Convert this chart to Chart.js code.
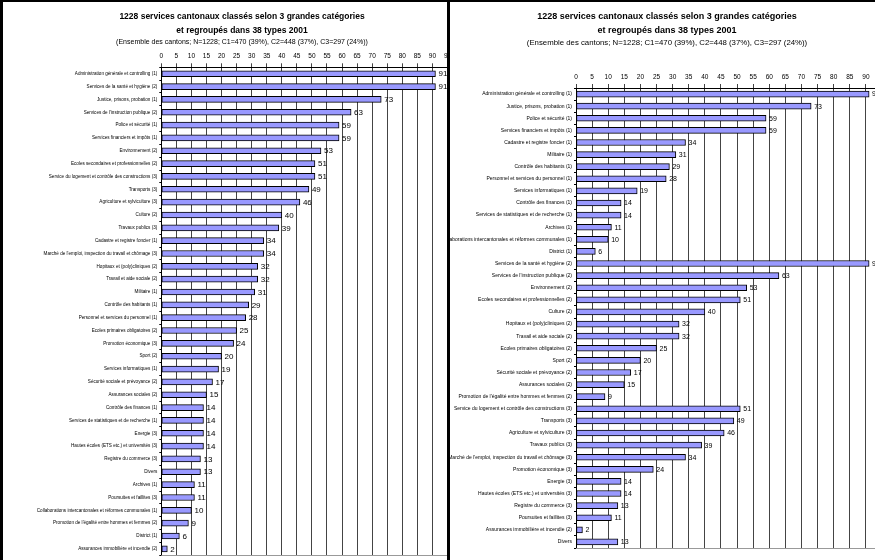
<!DOCTYPE html>
<html>
<head>
<meta charset="utf-8">
<script src="https://cdn.jsdelivr.net/npm/chart.js@4.4.1/dist/chart.umd.min.js"></script>
<style>
html, body { margin: 0; padding: 0; background: #fff; }
body { width: 875px; height: 560px; position: relative; overflow: hidden; }
#leftBox { position: absolute; left: 0; top: 0; width: 447px; height: 560px; overflow: hidden; border-top: 2px solid #000; box-sizing: border-box; }
#leftBox canvas { position: absolute; left: 0; top: -2px; }
#leftEdge { position: absolute; left: 0; top: 0; width: 3px; height: 560px; background: #000; }
#rightBox { position: absolute; left: 447px; top: 0; width: 428px; height: 560px; overflow: hidden; background: #fff; border-left: 3px solid #000; border-top: 2px solid #000; }
#rightBox canvas { position: absolute; left: 0; top: -2px; }
</style>
</head>
<body>
<div id="leftBox"><canvas id="leftChart" width="490" height="560"></canvas></div>
<div id="leftEdge"></div>
<div id="rightBox"><canvas id="rightChart" width="440" height="560"></canvas></div>
<script>
const titleLines = ['1228 services cantonaux classés selon 3 grandes catégories', 'et regroupés dans 38 types 2001'];
const subtitle = '(Ensemble des cantons; N=1228; C1=470 (39%), C2=448 (37%), C3=297 (24%))';

const leftLabels = [
  'Administration générale et controlling (1)', 'Services de la santé et hygiène (2)', 'Justice, prisons, probation (1)',
  "Services de l'instruction publique (2)", 'Police et sécurité (1)', 'Services financiers et impôts (1)',
  'Environnement (2)', 'Ecoles secondaires et professionnelles (2)', 'Service du logement et contrôle des constructions (3)',
  'Transports (3)', 'Agriculture et sylviculture (3)', 'Culture (2)', 'Travaux publics (3)',
  'Cadastre et registre foncier (1)', "Marché de l'emploi, inspection du travail et chômage (3)",
  'Hopitaux et (poly)cliniques (2)', 'Travail et aide sociale (2)', 'Militaire (1)', 'Contrôle des habitants (1)',
  'Personnel et services du personnel (1)', 'Ecoles primaires obligatoires (2)', 'Promotion économique (3)',
  'Sport (2)', 'Services informatiques (1)', 'Sécurité sociale et prévoyance (2)', 'Assurances sociales (2)',
  'Contrôle des finances (1)', 'Services de statistiques et de recherche (1)', 'Energie (3)',
  'Hautes écoles (ETS etc.) et universités (3)', 'Registre du commerce (3)', 'Divers', 'Archives (1)',
  'Poursuites et faillites (3)', 'Collaborations intercantonales et réformes communales (1)',
  "Promotion de l'égalité entre hommes et femmes (2)", 'District (1)', 'Assurances immobilière et incendie (2)'
];
const leftValues = [91, 91, 73, 63, 59, 59, 53, 51, 51, 49, 46, 40, 39, 34, 34, 32, 32, 31, 29, 28, 25, 24, 20, 19, 17, 15, 14, 14, 14, 14, 13, 13, 11, 11, 10, 9, 6, 2];

const rightLabels = [
  'Administration générale et controlling (1)', 'Justice, prisons, probation (1)', 'Police et sécurité (1)',
  'Services financiers et impôts (1)', 'Cadastre et registre foncier (1)', 'Militaire (1)', 'Contrôle des habitants (1)',
  'Personnel et services du personnel (1)', 'Services informatiques (1)', 'Contrôle des finances (1)',
  'Services de statistiques et de recherche (1)', 'Archives (1)', 'Collaborations intercantonales et réformes communales (1)',
  'District (1)', 'Services de la santé et hygiène (2)', "Services de l'instruction publique (2)", 'Environnement (2)',
  'Ecoles secondaires et professionnelles (2)', 'Culture (2)', 'Hopitaux et (poly)cliniques (2)', 'Travail et aide sociale (2)',
  'Ecoles primaires obligatoires (2)', 'Sport (2)', 'Sécurité sociale et prévoyance (2)', 'Assurances sociales (2)',
  "Promotion de l'égalité entre hommes et femmes (2)", 'Service du logement et contrôle des constructions (3)',
  'Transports (3)', 'Agriculture et sylviculture (3)', 'Travaux publics (3)',
  "Marché de l'emploi, inspection du travail et chômage (3)", 'Promotion économique (3)', 'Energie (3)',
  'Hautes écoles (ETS etc.) et universités (3)', 'Registre du commerce (3)', 'Poursuites et faillites (3)',
  'Assurances immobilière et incendie (2)', 'Divers'
];
const rightValues = [91, 73, 59, 59, 34, 31, 29, 28, 19, 14, 14, 11, 10, 6, 91, 63, 53, 51, 40, 32, 32, 25, 20, 17, 15, 9, 51, 49, 46, 39, 34, 24, 14, 14, 13, 11, 2, 13];

const xMax = 95;
const xStep = 5;
const FONT = '"Liberation Sans", Arial, sans-serif';

// titles, value labels and the grey bottom edge of the plot
const panelDeco = {
  id: 'panelDeco',
  afterDraw(chart, args, o) {
    const ctx = chart.ctx;
    const area = chart.chartArea;
    ctx.save();
    ctx.fillStyle = '#000';
    ctx.textAlign = 'center';
    ctx.textBaseline = 'middle';
    ctx.font = 'bold ' + o.titleSize + 'px ' + FONT;
    ctx.fillText(titleLines[0], o.cx, 17);
    ctx.fillText(titleLines[1], o.cx, 30.5);
    ctx.font = o.subSize + 'px ' + FONT;
    ctx.fillText(subtitle, o.cx, 42.5);

    ctx.font = o.valSize + 'px ' + FONT;
    ctx.textAlign = 'left';
    const vals = chart.data.datasets[0].data;
    chart.getDatasetMeta(0).data.forEach((bar, i) => {
      ctx.fillText(String(vals[i]), bar.x + 3, bar.y + 0.5);
    });

    ctx.strokeStyle = '#999';
    ctx.lineWidth = 1;
    ctx.beginPath();
    ctx.moveTo(area.left, Math.round(area.bottom) + 0.5);
    ctx.lineTo(area.right, Math.round(area.bottom) + 0.5);
    ctx.stroke();
    ctx.restore();
  }
};

function makePanel(id, labels, values, o) {
  return new Chart(document.getElementById(id), {
    type: 'bar',
    data: {
      labels: labels,
      datasets: [{
        data: values,
        backgroundColor: '#9999ff',
        borderColor: '#000',
        borderWidth: 1,
        borderSkipped: false,
        barThickness: 6
      }]
    },
    options: {
      indexAxis: 'y',
      responsive: false,
      animation: false,
      devicePixelRatio: 1,
      layout: { padding: { top: o.top, bottom: o.bottom, left: 0, right: o.right } },
      plugins: {
        legend: { display: false },
        tooltip: { enabled: false },
        panelDeco: o
      },
      scales: {
        x: {
          position: 'top',
          min: 0,
          max: xMax,
          ticks: { stepSize: xStep, color: '#000', font: { family: FONT, size: o.tickSize }, padding: 3, maxRotation: 0 },
          grid: { color: '#444', tickLength: 4, lineWidth: 1 },
          border: { color: '#000', width: 1 },
          afterFit: s => { s.height = 20; }
        },
        y: {
          ticks: { color: '#000', font: { family: FONT, size: o.labelSize }, padding: 2, autoSkip: false },
          grid: { drawOnChartArea: false, offset: true, tickLength: 2, color: '#000' },
          border: { color: '#000', width: 1 },
          afterFit: s => { s.width = o.yWidth; }
        }
      }
    },
    plugins: [panelDeco]
  });
}

makePanel('leftChart', leftLabels, leftValues, {
  cx: 242, titleSize: 8.5, subSize: 7, valSize: 8, tickSize: 6.5, labelSize: 4.6,
  top: 47.3, bottom: 3.7, right: 42.5, yWidth: 161.3
});

makePanel('rightChart', rightLabels, rightValues, {
  cx: 217, titleSize: 9, subSize: 7.8, valSize: 7, tickSize: 6.5, labelSize: 5,
  top: 68, bottom: 12, right: 8, yWidth: 126
});
</script>
</body>
</html>
